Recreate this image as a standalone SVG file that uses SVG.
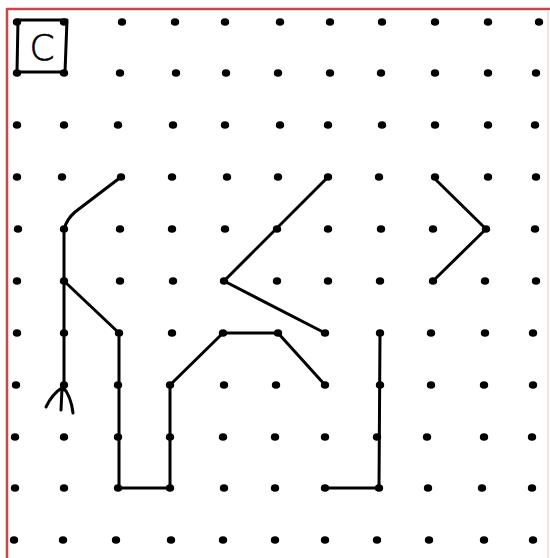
<svg xmlns="http://www.w3.org/2000/svg" width="550" height="558" viewBox="0 0 550 558">
<style>
.dot{fill:#000}
.ln{fill:none;stroke:#000;stroke-width:3;stroke-linecap:round;stroke-linejoin:round}
</style>
<defs>
<ellipse id="d" rx="4.2" ry="3.8" class="dot"/>
</defs>
<rect width="550" height="558" fill="#fff"/>
<line x1="7" y1="9" x2="550" y2="9" stroke="#c8464b" stroke-width="2.5"/>
<line x1="7" y1="8" x2="7" y2="558" stroke="#c8464b" stroke-width="2.5"/>
<line x1="548" y1="10" x2="548" y2="558" stroke="#f4d6d8" stroke-width="1.5"/>
<g id="grid">
<g transform="translate(0,22)"><use href="#d" x="17"/><use href="#d" x="64"/><use href="#d" x="122"/><use href="#d" x="175"/><use href="#d" x="225"/><use href="#d" x="280"/><use href="#d" x="330"/><use href="#d" x="382"/><use href="#d" x="435"/><use href="#d" x="488"/><use href="#d" x="539"/></g>
<g transform="translate(0,73)"><use href="#d" x="17"/><use href="#d" x="64"/><use href="#d" x="120"/><use href="#d" x="176"/><use href="#d" x="226"/><use href="#d" x="278"/><use href="#d" x="330"/><use href="#d" x="381"/><use href="#d" x="435"/><use href="#d" x="488"/><use href="#d" x="536"/></g>
<g transform="translate(0,125)"><use href="#d" x="17"/><use href="#d" x="64"/><use href="#d" x="118"/><use href="#d" x="173"/><use href="#d" x="225"/><use href="#d" x="280"/><use href="#d" x="328"/><use href="#d" x="382"/><use href="#d" x="435"/><use href="#d" x="488"/><use href="#d" x="535"/></g>
<g transform="translate(0,177)"><use href="#d" x="17"/><use href="#d" x="62"/><use href="#d" x="121"/><use href="#d" x="172"/><use href="#d" x="227"/><use href="#d" x="278"/><use href="#d" x="328"/><use href="#d" x="379"/><use href="#d" x="435"/><use href="#d" x="488"/><use href="#d" x="536"/></g>
<g transform="translate(0,229)"><use href="#d" x="18"/><use href="#d" x="64"/><use href="#d" x="120"/><use href="#d" x="172"/><use href="#d" x="225"/><use href="#d" x="277"/><use href="#d" x="328"/><use href="#d" x="381"/><use href="#d" x="433"/><use href="#d" x="486"/><use href="#d" x="535"/></g>
<g transform="translate(0,281)"><use href="#d" x="17"/><use href="#d" x="64"/><use href="#d" x="120"/><use href="#d" x="173"/><use href="#d" x="224"/><use href="#d" x="277"/><use href="#d" x="328"/><use href="#d" x="380"/><use href="#d" x="433"/><use href="#d" x="485"/><use href="#d" x="536"/></g>
<g transform="translate(0,333)"><use href="#d" x="17"/><use href="#d" x="64"/><use href="#d" x="119"/><use href="#d" x="172"/><use href="#d" x="223"/><use href="#d" x="278"/><use href="#d" x="325"/><use href="#d" x="380"/><use href="#d" x="431"/><use href="#d" x="485"/><use href="#d" x="533"/></g>
<g transform="translate(0,385)"><use href="#d" x="16"/><use href="#d" x="64"/><use href="#d" x="118"/><use href="#d" x="170"/><use href="#d" x="224"/><use href="#d" x="276"/><use href="#d" x="325"/><use href="#d" x="380"/><use href="#d" x="431"/><use href="#d" x="484"/><use href="#d" x="533"/></g>
<g transform="translate(0,437)"><use href="#d" x="15"/><use href="#d" x="64"/><use href="#d" x="118"/><use href="#d" x="170"/><use href="#d" x="223"/><use href="#d" x="275"/><use href="#d" x="325"/><use href="#d" x="377"/><use href="#d" x="427"/><use href="#d" x="484"/><use href="#d" x="532"/></g>
<g transform="translate(0,488)"><use href="#d" x="15"/><use href="#d" x="64"/><use href="#d" x="118"/><use href="#d" x="170"/><use href="#d" x="224"/><use href="#d" x="275"/><use href="#d" x="325"/><use href="#d" x="379"/><use href="#d" x="428"/><use href="#d" x="482"/><use href="#d" x="532"/></g>
<g transform="translate(0,540)"><use href="#d" x="14"/><use href="#d" x="63"/><use href="#d" x="116"/><use href="#d" x="171"/><use href="#d" x="223"/><use href="#d" x="275"/><use href="#d" x="325"/><use href="#d" x="377"/><use href="#d" x="429"/><use href="#d" x="484"/><use href="#d" x="533"/></g>
</g>
<g id="label">
<path class="ln" d="M18 20 L67 20 L65 72 L17 72 Z"/>
<text x="42" y="60" text-anchor="middle" font-family="DejaVu Sans, sans-serif" font-size="36" font-weight="300" fill="#000" stroke="#000" stroke-width="0.6">C</text>
</g>
<g id="connectors">
<path class="ln" d="M121 177 L75 212 Q67 219 64 229 L64 390"/>
<line class="ln" x1="64" y1="281" x2="119" y2="333"/>
<path class="ln" d="M63 387 Q52 394 46 407 M62 388 L61 410 M63 387 Q71 396 73 413"/>
<polyline class="ln" points="119,333 119,488 170,488 170,385 223,333 278,333 325,385"/>
<polyline class="ln" points="328,177 224,281 325,333"/>
<polyline class="ln" points="433,177 486,229 433,281"/>
<polyline class="ln" points="380,333 379,488 325,488"/>
</g>
</svg>
